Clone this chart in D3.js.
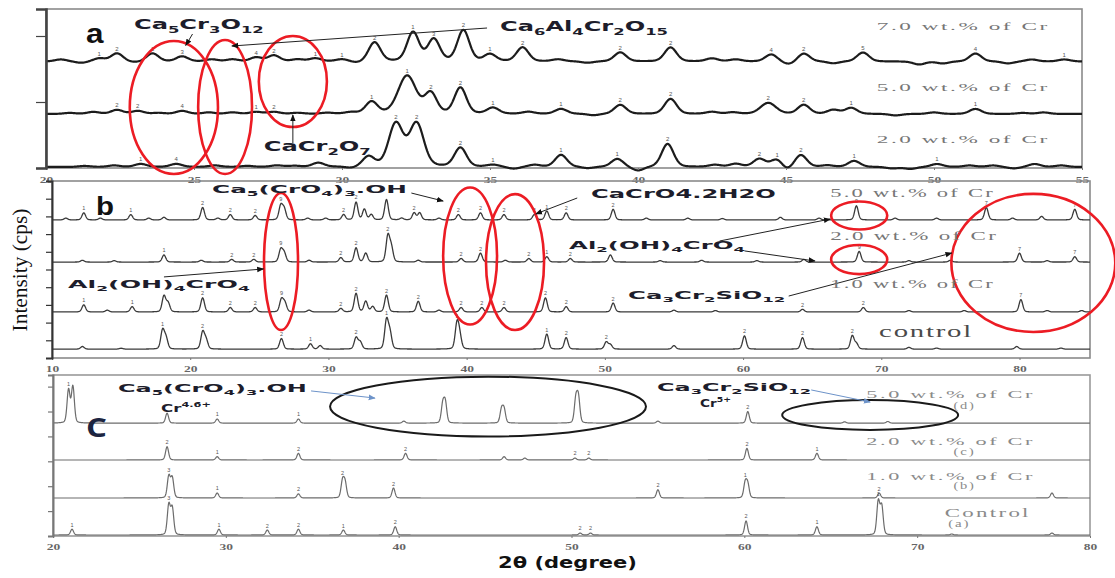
<!DOCTYPE html>
<html>
<head>
<meta charset="utf-8">
<script src="https://cdn.jsdelivr.net/npm/d3@7"></script>
<style>
  body { margin: 0; background: #fff; }
  svg { display: block; }
</style>
</head>
<body>
<svg id="fig" width="1115" height="578"></svg>
<script>
// ================= DATA =================
// Each peak: [2θ (deg), height (a.u.), optional phase mark, optional width factor]

// ---- Panel a : 2θ 20–55 ----
const aTicks = [20, 25, 30, 35, 40, 45, 50, 55];
const aNames = ["7.0 wt.% of Cr", "5.0 wt.% of Cr", "2.0 wt.% of Cr"];
const aOffsets = [106.5, 54, 1];
const aPeaks70 = [
  [20.5,2],[21.2,-1.5],[21.8,3,"1"],[22.4,8,"2"],[23.0,-1],[23.6,8,"1"],[24.6,5,"3"],[25.6,2],[26.3,2],
  [27.1,4,"4"],[27.7,6,"2"],[28.5,2],[29.1,3,"1"],[30.0,2,"1"],[30.5,-1.5],
  [31.1,19,"2"],[32.4,29,"1"],[33.1,22,"3"],[34.1,31,"2"],[35.0,7,"1"],[36.1,14,"2"],[37.3,2],[38.3,-1.5],
  [39.4,9,"2"],[41.1,14,"2"],[42.5,3],[43.3,2],[44.5,7,"4"],[45.1,-3],[45.6,8,"2"],[46.6,-2],[47.6,9,"5"],
  [49.5,-3],[50.3,-2],[51.4,8,"4"],[52.5,-2],[53.3,2],[54.4,2,"1"]
];
const aPeaks50 = [
  [20.8,1],[21.6,2],[22.4,4,"2"],[23.1,3,"2"],[23.8,1],[24.6,3,"4"],[25.5,1.5],[26.3,1.5],[27.1,2,"1"],[27.7,2,"2"],
  [28.5,1],[29.5,1],[30.3,1.5],
  [31.0,12,"1"],[32.2,38,"1",1.5],[33.0,20,"2"],[34.0,26,"2"],[35.1,6,"1"],[36.3,2],[37.4,5,"1"],[38.5,-1.5],
  [39.4,9,"2"],[41.1,15,"2"],[42.5,2],[43.2,1.5],[44.4,11,"2",1.3],[45.6,9,"2"],[46.6,4],[47.2,6,"1"],
  [48.7,-1.5],[50.0,1.5],[51.4,5,"1"],[53.0,1],[53.7,1.5]
];
const aPeaks20 = [
  [21.3,1],[22.3,1.5],[23.2,3,"1"],[24.4,3,"4"],[25.7,1.5],[26.8,1],[27.8,1.5],[28.4,1],[29.2,4],[30.3,-1.5],
  [30.9,10],[31.82,43,"2",1.2],[32.52,43,"2",1.2],[34.0,19,"2"],[35.1,2,"1"],[35.8,-2],[36.5,2],[37.4,12,"1"],[38.3,-1.5],
  [39.3,8,"1"],[40.0,-4],[41.0,23,"2"],[42.6,2],[43.3,3],[44.1,8,"2"],[44.7,8,"1"],[45.0,-4],[45.5,12,"2"],
  [46.4,1.5],[47.3,6,"1"],[48.6,-1.5],[49.2,-2],[50.1,3,"1"],[51.2,1.5],[52.0,1.5],[52.7,-1.5],[53.4,3],[54.3,1.5]
];

// ---- Panel b : 2θ 10–85 ----
const bTicks = [10, 20, 30, 40, 50, 60, 70, 80];
const bNames = ["5.0 wt.% of Cr", "2.0 wt.% of Cr", "1.0 wt.% of Cr", "control"];
const bOffsets = [78, 54.2, 26, 5];
const bPeaks50 = [
  [11.0,1],[12.3,4,"1"],[13.5,1],[15.7,3,"1"],[17.0,1],[18.1,1.5],[20.9,7,"2"],[22.0,1],[22.9,3,"2"],[24.7,2.5,"2"],
  [26.55,8,"9"],[26.8,6],[28.5,1],[29.8,1],[31.1,3,"2"],[32.0,10,"2"],[32.6,6],[33.1,3],[34.2,11.5],[35.3,1],
  [36.2,4,"2"],[36.6,4],[38.0,1],[39.4,3,"2"],[41.0,4,"2"],[42.7,3,"2"],[44.9,3,"2"],[45.8,5,"1"],[47.2,4,"2"],
  [50.6,6,"2"],[53.0,1],[56.0,1],[58.5,0.8],[62.7,1.5],[65.5,1],[68.2,8,"9"],[71.0,1],[74.0,1],[77.6,7,"7"],
  [79.5,1],[81.6,2],[84.0,6,"7"]
];
const bPeaks20 = [
  [12.2,1],[14.5,0.8],[18.1,4,"1"],[20.8,1],[23.0,1.5,"2"],[24.6,1.5,"2"],[26.55,7,"9"],[26.8,5],[28.6,1],
  [30.9,2.5,"2"],[32.0,8,"2"],[32.7,5],[34.3,14.5,"2"],[34.55,8],[36.5,1],[39.6,2,"2"],[41.0,5,"2"],[42.8,1],
  [44.5,2,"2"],[45.8,3,"1"],[47.5,2,"2"],[50.4,4],[54.0,0.8],[57.0,1],[61.0,0.8],[64.4,1.5],[68.4,6,"9"],
  [72.0,0.8],[75.0,1],[80.0,5,"7"],[82.0,0.8],[84.0,3,"7"]
];
const bPeaks10 = [
  [12.3,4,"1"],[14.0,1],[15.8,3,"1"],[18.1,9],[18.4,5],[20.9,8,"2"],[22.9,2.5,"2"],[24.7,2.5,"2"],[26.6,7,"9"],
  [26.85,5],[28.6,1],[30.9,2,"2"],[32.0,10.5,"2"],[32.7,6],[33.2,3],[34.2,9.5,"2"],[36.5,6,"2"],[38.0,1],[39.6,2.5,"2"],
  [41.1,2.5,"2"],[42.7,2.5,"2"],[45.7,8,"2"],[47.2,3,"2"],[50.6,5,"2"],[55.0,1],[58.0,0.8],[64.3,1.5,"2"],[68.7,2.5,"2"],
  [72.0,0.8],[76.0,0.8],[80.1,7,"7"],[82.0,0.8],[84.5,0.8]
];
const bPeaksCtrl = [
  [12.2,1.5],[15.0,0.5],[18.0,10.5,"1"],[18.25,6],[20.9,9.5,"2"],[21.15,5],[26.6,6,"2"],[28.7,3,"1"],[29.4,2],
  [32.0,6.5,"2"],[32.3,4],[34.2,16,"1"],[34.45,9],[39.3,14,"1"],[39.5,7],[45.8,8.5,"1"],[47.2,6.5,"2"],[50.1,4,"2"],
  [50.4,2.5],[55.0,2],[60.1,7.5,"2"],[64.3,6.5,"2"],[67.9,7.5,"2"],[68.2,3],[72.0,1],[74.0,0.6],[79.8,1.5],[83.0,0.6]
];

// ---- Panel c : 2θ 20–80 ----
const cTicks = [20, 30, 40, 50, 60, 70, 80];
const cNames = ["5.0 wt.% of Cr", "2.0 wt.% of Cr", "1.0 wt.% of Cr", "Control"];
const cTags = ["(d)", "(c)", "(b)", "(a)"];
const cOffsets = [68, 45.8, 22.9, 0.6];
const cPeaksD = [
  [20.9,20,"1"],[21.15,22],[26.6,6],[29.5,2.5,"1"],[34.2,2.5,"1"],[40.3,1.2],[42.55,11],[42.7,12],
  [45.95,8],[46.1,8],[50.25,14],[50.4,15],[55.0,1.2],[60.2,7,"2"],[65.8,0.8],[68.3,1]
];
const cPeaksC = [
  [26.6,8,"2"],[29.5,2,"1"],[34.2,4,"2"],[40.4,4,"2"],[46.1,2],[47.3,1.2],[50.2,1.2,"2"],[51.0,1.2,"2"],
  [60.15,7,"2"],[64.2,4,"1"]
];
const cPeaksB = [
  [26.7,13,"3"],[26.9,12],[29.5,3,"1"],[34.2,2.5,"2"],[36.75,10,"2"],[36.9,9],[39.7,6,"2"],[55.0,5,"2"],
  [60.05,9,"1"],[60.2,8],[67.8,3,"2"],[77.8,3]
];
const cPeaksA = [
  [21.1,3.5,"1"],[26.7,18,"3"],[26.9,16],[29.6,3.5,"1"],[32.4,3,"2"],[34.2,3.5,"2"],[36.8,3,"1"],[39.8,5,"2"],
  [50.5,1.2,"2"],[51.1,1.2,"2"],[60.1,8.5,"2"],[64.2,5,"1"],[67.75,20,"1"],[67.95,17],[72.0,0.6],[77.8,1.2]
];

// ---- Annotations (data coordinates: 2θ, intensity a.u.) ----
// ellipses: [panel, cx, cy, rx(deg), ry(a.u.), colour]
const ellipses = [
  ["a", 24.32, 60.5, 1.49, 66.5, "red"], ["a", 26.05, 61, 0.91, 67, "red"], ["a", 28.34, 86.5, 1.15, 45.5, "red"],
  ["b", 26.57, 54.5, 1.23, 38.7, "red"], ["b", 40.25, 57.6, 1.95, 38.7, "red"], ["b", 43.5, 54.2, 2.1, 38.4, "red"],
  ["b", 68.4, 80.5, 2.03, 7.9, "red"], ["b", 68.4, 55.6, 2.03, 8.2, "red"], ["b", 81.0, 53.7, 5.93, 39, "red"],
  ["c", 45.17, 78, 9.14, 18, "black"], ["c", 67.28, 72.9, 5.09, 9, "black"]
];
// arrows: [panel, x1, y1, x2, y2, colour]  (head at the second point)
const arrows = [
  ["a", 24.95, 134, 24.72, 122.5, "black"], ["a", 34.9, 140, 26.28, 122, "black"], ["a", 28.34, 25, 28.34, 53, "black"],
  ["b", 36.0, 93.2, 38.3, 88.7, "black"], ["b", 48.0, 90.4, 45.0, 81.4, "black"], ["b", 18.1, 45.8, 25.3, 50.3, "black"],
  ["b", 58.3, 66.1, 66.3, 78.5, "black"], ["b", 60.1, 60.5, 65.2, 54.8, "black"], ["b", 63.3, 35, 75.1, 59.3, "black"],
  ["c", 34.93, 87.4, 38.63, 83.1, "blue"], ["c", 63.87, 88, 67.28, 80.7, "blue"]
];
// text labels: [panel, markup, x(2θ), y(a.u.) of baseline, kind, size, width(px)]
const labels = [
  ["a", "a", 21.35, 125, "panel", 28, 18],
  ["a", "Ca_{5}Cr_{3}O_{12}", 22.97, 139, "chem", 14, 130],
  ["a", "Ca_{6}Al_{4}Cr_{2}O_{15}", 35.34, 137, "chem", 14, 168],
  ["a", "CaCr_{2}O_{7}", 27.36, 17, "chem", 14, 107],
  ["a", aNames[0], 48.07, 138, "legend", 11, 173],
  ["a", aNames[1], 48.07, 77, "legend", 11, 173],
  ["a", aNames[2], 48.07, 25.5, "legend", 11, 173],
  ["b", "b", 13.18, 80.8, "panel", 26, 18],
  ["b", "Ca_{5}(CrO_{4})_{3}.OH", 21.58, 93.2, "chem", 10, 195],
  ["b", "CaCrO4.2H2O", 49.0, 90.4, "chem", 12, 185],
  ["b", "Al_{2}(OH)_{4}CrO_{4}", 11.16, 39.5, "chem", 11, 182],
  ["b", "Al_{2}(OH)_{4}CrO_{4}", 47.41, 61.5, "chem", 11, 176],
  ["b", "Ca_{3}Cr_{2}SiO_{12}", 51.68, 33.3, "chem", 10, 158],
  ["b", bNames[0], 66.3, 90.8, "legend", 12, 165],
  ["b", bNames[1], 66.3, 66.7, "legend", 12, 168],
  ["b", bNames[2], 66.3, 39.5, "legend", 12, 165],
  ["b", bNames[3], 69.84, 11.9, "ctrl", 16, 94],
  ["c", "C", 21.91, 59.6, "panelC", 26, 21],
  ["c", "Ca_{5}(CrO_{4})_{3}.OH", 23.76, 87.0, "chem", 11, 189],
  ["c", "Cr^{4.6+}", 26.25, 75.0, "chem", 10, 50],
  ["c", "Ca_{3}Cr_{2}SiO_{12}", 54.95, 87.2, "chem", 11, 154],
  ["c", "Cr^{5+}", 57.44, 78.0, "chem", 10, 31],
  ["c", cNames[0], 67.05, 83.1, "legendC", 10, 169],
  ["c", cTags[0], 72.1, 76.5, "legendC", 10, 22],
  ["c", cNames[1], 67.05, 54.8, "legendC", 10, 169],
  ["c", cTags[1], 72.1, 48.8, "legendC", 10, 22],
  ["c", cNames[2], 67.05, 33.7, "legendC", 10, 169],
  ["c", cTags[2], 72.1, 28.3, "legendC", 10, 22],
  ["c", cNames[3], 71.6, 11.4, "legendC", 12, 86],
  ["c", cTags[3], 71.8, 5.4, "legendC", 10, 22]
];

// ================= LAYOUT =================
const svg = d3.select("#fig");
const panels = {
  a: { box: [46, 1082, 9, 168],   xDom: [20, 55],    yDom: [0, 159], yTicks: [0, 66, 132], tick: 10,
       sigma: 0.2,  line: { c: "#1c1c1c", w: 2.2 }, frame: "#8a8a8a", axis: "#444",
       series: [aPeaks70, aPeaks50, aPeaks20], offsets: aOffsets, xTicks: aTicks, labY: 183 },
  b: { box: [52, 1090, 181, 358], xDom: [10, 85.1],  yDom: [0, 100], yTicks: d3.range(10, 101, 10), tick: 6,
       sigma: 0.13, line: { c: "#3a3a3a", w: 1.3 }, frame: "#8a8a8a", axis: "#333",
       series: [bPeaks50, bPeaks20, bPeaks10, bPeaksCtrl], offsets: bOffsets, xTicks: bTicks, labY: 372 },
  c: { box: [53, 1090, 375, 536], xDom: [20, 80],    yDom: [0, 97],  yTicks: d3.range(15, 91, 15), tick: 5,
       sigma: 0.085, line: { c: "#6c6c6c", w: 1.2 }, frame: "#9a9a9a", axis: "#777",
       series: [cPeaksD, cPeaksC, cPeaksB, cPeaksA], offsets: cOffsets, xTicks: cTicks, labY: 550 }
};
for (const k in panels) {
  const p = panels[k];
  p.x = d3.scaleLinear().domain(p.xDom).range([p.box[0], p.box[1]]);
  p.y = d3.scaleLinear().domain(p.yDom).range([p.box[3], p.box[2]]);
}

const kinds = {
  panel:   { fam: "'Liberation Sans', Arial, sans-serif", wt: 700, fill: "#111", ls: 0 },
  panelC:  { fam: "'Open Sans', 'Liberation Sans', sans-serif", wt: 700, fill: "#1c2541", ls: 0 },
  chem:    { fam: "'DejaVu Sans', Verdana, sans-serif", wt: 700, fill: "#1d1d2b", ls: 0 },
  legend:  { fam: "'Liberation Serif', 'Times New Roman', serif", wt: 400, fill: "#767676", ls: 1.2 },
  legendC: { fam: "'Liberation Serif', 'Times New Roman', serif", wt: 400, fill: "#8a8a8a", ls: 1.2 },
  ctrl:    { fam: "'Liberation Serif', 'Times New Roman', serif", wt: 400, fill: "#4a4a4a", ls: 1 }
};

// pseudo-Voigt sum of peaks on top of a flat offset
function intensity(peaks, offset, sigma, t) {
  let v = offset;
  for (const pk of peaks) {
    const s = sigma * (pk[3] || 1);
    const d = (t - pk[0]) / s;
    v += pk[1] * (0.78 * Math.exp(-0.5 * d * d) + 0.22 / (1 + 0.6 * d * d));
  }
  return v;
}

// rich text with _{sub} and ^{sup}
function addRich(text, markup, fs) {
  const re = /([_^])\{([^}]*)\}|([^_^]+)/g;
  let m, cur = 0;
  while ((m = re.exec(markup))) {
    let s, target, size;
    if (m[3] !== undefined) { s = m[3]; target = 0; size = fs; }
    else { s = m[2]; size = fs * 0.68; target = m[1] === "_" ? fs * 0.28 : -fs * 0.45; }
    text.append("tspan").attr("font-size", size).attr("dy", target - cur).text(s);
    cur = target;
  }
}

// stretched label: left edge at (x, y), scaled horizontally to the given width
function placeLabel(layer, x, y, markup, kind, size, width) {
  const st = kinds[kind];
  const g = layer.append("g");
  const t = g.append("text")
    .attr("font-family", st.fam).attr("font-weight", st.wt).attr("fill", st.fill)
    .attr("font-size", size).attr("letter-spacing", st.ls);
  addRich(t, markup, size);
  const bb = t.node().getBBox();
  const sx = width ? width / bb.width : 1;
  g.attr("transform", `translate(${x - bb.x * sx},${y}) scale(${sx},1)`);
  return g;
}

// ================= DRAW =================
const defs = svg.append("defs");
[["black", "#111"], ["blue", "#6d93c9"]].forEach(([id, col]) => {
  defs.append("marker").attr("id", "head-" + id).attr("viewBox", "0 0 10 10")
    .attr("refX", 9).attr("refY", 5).attr("markerWidth", 7).attr("markerHeight", 7)
    .attr("orient", "auto-start-reverse")
    .append("path").attr("d", "M0,1 L10,5 L0,9 Z").attr("fill", col);
});

Object.entries(panels).forEach(([key, p]) => {
  const g = svg.append("g").attr("class", "panel-" + key);
  const [x0, x1, y0, y1] = p.box;

  // frame
  g.append("rect").attr("x", x0).attr("y", y0).attr("width", x1 - x0).attr("height", y1 - y0)
    .attr("fill", "none").attr("stroke", p.frame).attr("stroke-width", 1.6);

  // patterns
  const line = d3.line().x(d => p.x(d[0])).y(d => p.y(d[1]));
  p.series.forEach((peaks, i) => {
    const pts = d3.range(p.xDom[0], p.xDom[1] + 1e-9, 0.02)
      .map(t => [t, intensity(peaks, p.offsets[i], p.sigma, t)]);
    g.append("path").datum(pts).attr("d", line).attr("fill", "none")
      .attr("stroke", p.line.c).attr("stroke-width", p.line.w).attr("stroke-linejoin", "round");
    // phase marks above peaks
    g.selectAll(null).data(peaks.filter(pk => pk[2])).join("text")
      .attr("x", pk => p.x(pk[0])).attr("y", pk => p.y(intensity(peaks, p.offsets[i], p.sigma, pk[0])) - 2.5)
      .attr("text-anchor", "middle").attr("font-family", "'Liberation Sans', sans-serif")
      .attr("font-size", key === "a" ? 6 : 5.5).attr("fill", "#555").text(pk => pk[2]);
  });

  // x axis labels
  const xa = g.append("g").attr("transform", `translate(0,${y1})`)
    .call(d3.axisBottom(p.x).tickValues(p.xTicks).tickSize(2).tickFormat(d3.format("d")));
  xa.select(".domain").remove();
  xa.selectAll("line").attr("stroke", "#777");
  xa.selectAll("text").attr("y", p.labY - y1).attr("dy", 0)
    .attr("font-family", "'Liberation Serif', serif").attr("font-weight", 700)
    .attr("font-size", 9).attr("fill", "#666").attr("transform", "scale(1.5,1)")
    .attr("x", 0);

  // left axis with outward ticks
  const ya = g.append("g").attr("transform", `translate(${x0},0)`)
    .call(d3.axisLeft(p.y).tickValues(p.yTicks).tickSize(p.tick).tickFormat(""));
  ya.select(".domain").attr("stroke", p.axis).attr("stroke-width", key === "a" ? 2.6 : 2);
  ya.selectAll("line").attr("stroke", p.axis).attr("stroke-width", 1.2);
});

// annotations
const ann = svg.append("g");
ellipses.forEach(([k, cx, cy, rx, ry, col]) => {
  const p = panels[k];
  ann.append("ellipse")
    .attr("cx", p.x(cx)).attr("cy", p.y(cy))
    .attr("rx", p.x(cx + rx) - p.x(cx)).attr("ry", p.y(cy - ry) - p.y(cy))
    .attr("fill", "none").attr("stroke", col === "red" ? "#ec1c24" : "#1a1a1a")
    .attr("stroke-width", col === "red" ? 2.6 : 2);
});
arrows.forEach(([k, xa, ya, xb, yb, col]) => {
  const p = panels[k];
  ann.append("line")
    .attr("x1", p.x(xa)).attr("y1", p.y(ya)).attr("x2", p.x(xb)).attr("y2", p.y(yb))
    .attr("stroke", col === "blue" ? "#6d93c9" : "#222").attr("stroke-width", 1)
    .attr("marker-end", `url(#head-${col})`);
});
labels.forEach(([k, txt, x, y, kind, size, width]) => {
  const p = panels[k];
  placeLabel(ann, p.x(x), p.y(y), txt, kind, size, width);
});

// axis titles
const yt = svg.append("g").attr("transform", "translate(27,270) rotate(-90)");
const ytText = yt.append("text").attr("text-anchor", "middle")
  .attr("font-family", "'Liberation Serif', 'Times New Roman', serif")
  .attr("font-size", 19).attr("fill", "#111").text("Intensity (cps)");
const ytw = ytText.node().getBBox().width;
ytText.attr("transform", `scale(${123 / ytw},1.1)`);

const xt = svg.append("g");
const xtText = xt.append("text").attr("font-family", "'DejaVu Sans', Verdana, sans-serif")
  .attr("font-weight", 700).attr("font-size", 15).attr("fill", "#111").text("2θ (degree)");
const xtw = xtText.node().getBBox().width;
xt.attr("transform", `translate(498,568) scale(${139 / xtw},1)`);
</script>
</body>
</html>
